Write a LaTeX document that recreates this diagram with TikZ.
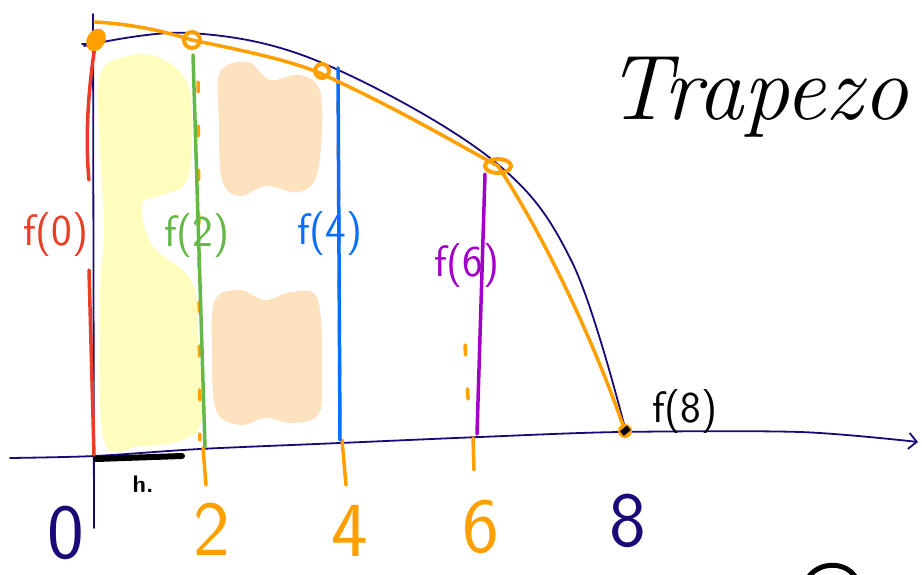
\documentclass[tikz,border=0pt]{standalone}
\usetikzlibrary{arrows.meta,calc}
\definecolor{navy}{RGB}{25,10,120}
\definecolor{orng}{RGB}{255,160,0}
\definecolor{redc}{RGB}{235,60,40}
\definecolor{greenc}{RGB}{100,185,70}
\definecolor{bluec}{RGB}{10,110,255}
\definecolor{purp}{RGB}{160,0,200}
\definecolor{yell}{RGB}{255,253,190}
\definecolor{peach}{RGB}{252,226,190}
\tikzset{
  pen/.style={line width=3.5pt, line cap=round, line join=round},
  thinpen/.style={line width=1.8pt, line cap=round, line join=round},
  flabel/.style={inner sep=0pt, font=\sffamily\fontsize{44}{44}\selectfont},
  numlabel/.style={inner sep=0pt, anchor=base, font=\sffamily\fontsize{78}{78}\selectfont},
  orngdash/.style={pen, orng, dash pattern=on 10pt off 34pt},
  blob/.style={orng, line width=4pt}
}
\begin{document}
\begin{tikzpicture}[x=1pt,y=-1pt]
\useasboundingbox (0,0) rectangle (922,575);
\fill[white] (0,0) rectangle (922,575);

% coordinates
\coordinate (p0) at (96,40);
\coordinate (p2) at (192,40);
\coordinate (p4) at (322,74);
\coordinate (p6) at (498,166);
\coordinate (p8) at (625,431);
\coordinate (b0) at (94,455);
\coordinate (b2) at (205,447);
\coordinate (b4) at (340,440);
\coordinate (b6) at (477,434);

% shaded blobs
\fill[yell] plot[smooth cycle, tension=0.6] coordinates {(100,75) (128,56) (160,58) (188,85) (192,150) (184,185) (158,196) (142,205) (152,245) (192,282) (198,340) (202,418) (182,440) (140,446) (104,440) (100,300) (104,230) (100,150)};
\fill[peach] plot[smooth cycle, tension=0.6] coordinates {(220,72) (248,62) (270,80) (300,75) (321,95) (318,170) (300,192) (266,186) (240,196) (222,180) (219,120)};
\fill[peach] plot[smooth cycle, tension=0.6] coordinates {(215,300) (240,290) (265,300) (292,292) (318,300) (322,380) (318,415) (292,423) (265,418) (240,425) (216,410) (212,350)};

% y axis
\draw[navy, thinpen] (93,14) -- (94,528);
\draw[navy, thinpen] (82,44) -- (98,44);
% x axis
\draw[navy, thinpen, -{Straight Barb[length=8pt]}] plot[smooth, tension=0.5] coordinates {(10,458) (95,456) (200,449) (340,443) (480,437) (620,432) (800,432) (918,442)};

% true curve
\draw[navy, thinpen] plot[smooth, tension=0.6] coordinates {(84,46) (190,33) (320,62) (490,158) (572,262) (626,432)};

% orange dashed verticals
\draw[orngdash] (198,82) -- (200,440);
\draw[pen, orng] (203,448) -- (206,485);
\draw[orngdash] (338,102) -- (340,432);
\draw[pen, orng] (342,440) -- (346,485);
\draw[orngdash] (465,345) -- (470,432);
\draw[pen, orng] (473,438) -- (474,470);

% heights
\draw[pen, redc] (p0) .. controls (86,100) and (86,150) .. (89,180);
\draw[pen, redc] (89,270) -- (b0);
\draw[pen, greenc] (p2) ++(1,15) -- (b2);
\draw[pen, bluec] (p4) ++(16,-6) -- (b4);
\draw[pen, purp] (p6) ++(-13,8) -- (b6);

% trapezoid tops
\draw[pen, orng] (95,22) .. controls (130,24) and (160,30) .. (p2) .. controls (240,50) and (290,60) .. (p4) .. controls (400,110) and (450,140) .. (p6) .. controls (540,230) and (590,330) .. (p8);

% vertex marks
\fill[orng, rotate around={-30:(p0)}] (p0) ellipse (9pt and 12pt);
\draw[blob] (p2) circle (8pt);
\draw[blob] (p4) ++(0,-3) circle (7pt);
\draw[blob] (p6) ellipse (13pt and 7pt);
\fill[orng] (p8) circle (7pt);
\fill[black, rotate around={40:(p8)}] ($(p8)+(-4,-3)$) rectangle ($(p8)+(5,3)$);

% labels
\node[flabel, text=redc] (l0) at (56,235) {f(0)};
\node[flabel, text=greenc] (l2) at (197,236) {f(2)};
\node[flabel, text=bluec] (l4) at (330,234) {f(4)};
\node[flabel, text=purp] (l6) at (467,266) {f(6)};
\node[flabel, text=black, anchor=west] (l8) at (652,412) {f(8)};

% h bracket
\draw[black, line width=6pt, line cap=round] (96,459) -- (182,456);
\node[inner sep=0pt, font=\sffamily\bfseries\fontsize{24}{24}\selectfont] (hl) at (143,484) {h.};

% axis numbers
\node[numlabel, text=navy] (n0) at (66,558) {0};
\node[numlabel, text=orng] (n2) at (212,555) {2};
\node[numlabel, text=orng] (n4) at (350,556) {4};
\node[numlabel, text=orng] (n6) at (481,552) {6};
\node[numlabel, text=navy] (n8) at (628,546) {8};

% title
\node[inner sep=0pt, anchor=base west, font=\itshape\fontsize{92}{92}\selectfont] (title) at (606,120) {Trapezo};

% partial stroke at the bottom edge
\begin{scope}
\clip (0,0) rectangle (922,575);
\draw[black, line width=5pt, line cap=round] (808,578) .. controls (818,562) and (845,560) .. (856,578);
\end{scope}
\end{tikzpicture}
\end{document}
